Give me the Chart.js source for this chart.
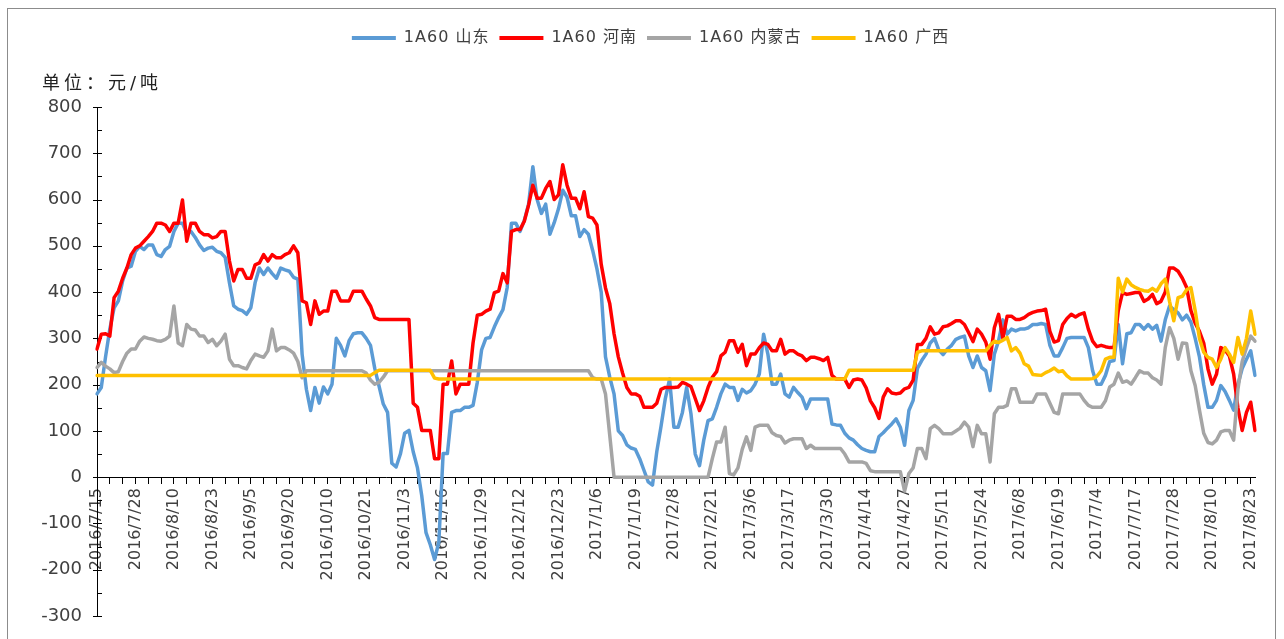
<!DOCTYPE html>
<html><head><meta charset="utf-8">
<script src="https://cdn.jsdelivr.net/npm/chart.js@4.4.0/dist/chart.umd.min.js"></script>
<style>
html,body{margin:0;padding:0;background:#fff;overflow:hidden;}
#wrap{position:relative;width:1284px;height:639px;overflow:hidden;}
#frame{position:absolute;left:7px;top:8px;width:1269px;height:700px;border:1px solid #8c8c8c;box-sizing:border-box;pointer-events:none;}
canvas{position:absolute;left:0;top:0;}
</style></head><body>
<div id="wrap"><canvas id="c" width="1284" height="639"></canvas><div id="frame"></div></div>
<script>
const tickLabels = ['2016/7/15','2016/7/28','2016/8/10','2016/8/23','2016/9/5','2016/9/20','2016/10/10','2016/10/21','2016/11/3','2016/11/16','2016/11/29','2016/12/12','2016/12/23','2017/1/6','2017/1/19','2017/2/8','2017/2/21','2017/3/6','2017/3/17','2017/3/30','2017/4/14','2017/4/27','2017/5/11','2017/5/24','2017/6/8','2017/6/19','2017/7/4','2017/7/17','2017/7/28','2017/8/10','2017/8/23'];
const seriesNames = ['1A60 山东','1A60 河南','1A60 内蒙古','1A60 广西'];
const unitText = '单位：元/吨';

const shandong = [
180,194,260,320,366,381,424,452,456,488,
499,492,502,502,481,477,492,499,531,549,
549,527,531,518,502,490,495,497,488,485,
475,420,370,363,360,352,366,420,452,438,
452,440,430,452,448,445,432,428,266,190,
144,194,160,195,180,201,300,285,262,295,
310,312,312,300,285,235,197,158,140,30,
22,50,95,101,55,20,-40,-120,-146,-178,
-140,51,51,140,144,144,151,151,155,205,
275,300,302,325,345,362,410,549,549,531,
555,590,671,600,570,590,525,550,580,620,
605,565,565,520,535,525,490,450,400,260,
216,180,100,90,70,63,60,40,15,-10,
-17,55,110,170,212,108,108,140,194,137,
50,25,80,122,126,151,180,201,194,194,
166,190,182,187,201,223,309,266,201,201,
223,180,173,194,183,173,148,169,169,169,
169,169,115,113,112,95,85,80,70,62,
58,55,55,88,96,106,115,126,108,69,
144,166,235,252,266,290,300,275,265,277,
285,298,302,305,262,237,262,237,230,187,
266,295,340,309,320,316,320,320,323,330,
330,332,330,285,262,262,280,300,302,302,
302,302,280,230,201,201,220,250,252,330,
245,310,312,330,330,320,330,320,328,294,
340,370,362,355,340,350,335,300,260,200,
151,151,166,198,185,166,145,200,235,255,
273,220];

const henan = [
277,309,310,305,388,402,430,452,481,495,
500,510,520,531,549,549,545,531,549,549,
599,510,549,549,531,524,524,517,520,531,
531,467,424,449,449,430,430,459,463,481,
467,481,474,474,481,485,500,485,381,377,
330,381,352,359,359,402,402,381,381,381,
402,402,402,385,370,345,341,341,341,341,
341,341,341,341,160,151,101,101,101,40,
40,201,201,251,180,201,201,201,290,350,
352,359,363,399,402,440,420,531,535,535,
553,588,631,603,603,624,639,600,610,675,
631,603,603,580,617,563,560,545,460,409,
375,310,260,225,194,180,180,175,151,151,
151,160,190,194,194,194,195,205,201,196,
170,144,165,194,216,228,262,270,295,295,
270,287,241,266,266,280,290,287,273,273,
298,266,273,273,266,262,252,259,259,256,
252,259,220,212,212,212,194,210,212,210,
193,165,150,127,173,191,182,180,182,191,
194,210,287,287,300,325,309,312,325,327,
332,338,338,330,312,293,320,309,292,255,
323,352,300,348,348,341,341,345,352,356,
359,360,363,315,292,295,330,343,352,346,
352,355,320,294,282,285,282,280,280,360,
399,395,397,399,399,380,385,395,375,380,
400,452,452,445,430,410,360,333,315,290,
234,201,223,280,275,262,223,150,101,140,
162,101];

const neimenggu = [
237,248,240,234,226,228,250,268,277,277,
294,303,300,298,295,294,298,305,370,290,
284,330,320,318,305,305,291,298,284,294,
309,255,241,241,237,234,252,266,262,259,
273,320,273,280,280,275,268,250,215,230,
230,230,230,230,230,230,230,230,230,230,
230,230,230,225,210,201,205,216,230,230,
230,230,230,230,230,230,230,230,230,230,
230,230,230,230,230,230,230,230,230,230,
230,230,230,230,230,230,230,230,230,230,
230,230,230,230,230,230,230,230,230,230,
230,230,230,230,230,230,215,212,212,180,
90,0,0,0,0,0,0,0,0,0,
0,0,0,0,0,0,0,0,0,0,
0,0,0,0,40,76,76,108,8,5,
20,60,87,58,108,112,112,112,96,90,
88,74,80,83,83,83,62,69,62,62,
62,62,62,62,62,50,33,33,33,33,
30,14,12,12,12,12,12,12,12,-30,
8,20,62,62,40,105,112,105,94,94,
94,100,106,119,108,66,112,94,94,33,
137,151,151,155,191,191,162,162,162,162,
180,180,180,160,140,137,180,180,180,180,
180,166,155,151,151,151,165,195,201,225,
205,208,201,215,230,225,225,215,210,201,
280,323,300,255,290,289,230,198,145,95,
75,72,80,98,101,101,80,190,250,280,
305,294];

const guangxi = [
220,220,220,220,220,220,220,220,220,220,
220,220,220,220,220,220,220,220,220,220,
220,220,220,220,220,220,220,220,220,220,
220,220,220,220,220,220,220,220,220,220,
220,220,220,220,220,220,220,220,220,220,
220,220,220,220,220,220,220,220,220,220,
220,220,220,220,220,226,231,231,231,231,
231,231,231,231,231,231,231,231,231,214,
212,212,212,212,212,212,212,212,212,212,
212,212,212,212,212,212,212,212,212,212,
212,212,212,212,212,212,212,212,212,212,
212,212,212,212,212,212,212,212,212,212,
212,212,212,212,212,212,212,212,212,212,
212,212,212,212,212,212,212,212,212,212,
212,212,212,212,212,212,212,212,212,212,
212,212,212,212,212,212,212,212,212,212,
212,212,212,212,212,212,212,212,212,212,
212,212,212,212,212,212,231,231,231,231,
231,231,231,231,231,231,231,231,231,231,
231,231,270,273,273,273,273,273,273,273,
273,273,273,273,273,273,273,273,273,285,
294,291,296,302,273,280,268,245,240,222,
221,220,226,230,236,228,230,219,212,212,
212,212,212,213,218,230,255,259,259,430,
400,428,416,410,406,403,402,408,402,418,
428,380,338,388,391,405,410,360,300,270,
259,255,237,255,280,266,248,302,266,300,
359,309];

const colors = ['#5B9BD5','#FF0000','#A5A5A5','#FFC000'];
const N = shandong.length;
const categories = Array.from({length: N}, (_, i) => (i % 9 === 0 && tickLabels[i / 9]) ? tickLabels[i / 9] : '');

const CJK = '"DejaVu Sans", "Noto Sans CJK SC", sans-serif';
const hasLS = 'letterSpacing' in CanvasRenderingContext2D.prototype;

const legendSpacer = {
  id: 'legendSpacer',
  beforeInit(chart) {
    const lg = chart.legend;
    const origFit = lg.fit;
    const origDraw = lg.draw;
    lg.fit = function () {
      if (hasLS) this.ctx.letterSpacing = '1px';
      origFit.call(this);
      if (hasLS) this.ctx.letterSpacing = '0px';
      this.height += 51;
    };
    lg.draw = function () {
      if (hasLS) this.ctx.letterSpacing = '1px';
      origDraw.call(this);
      if (hasLS) this.ctx.letterSpacing = '0px';
    };
  },
  afterLayout(chart) {
    chart.legend.left += 8;
    chart.legend.right += 8;
  }
};

const extras = {
  id: 'extras',
  beforeDatasetsDraw(chart) {
    const ctx = chart.ctx;
    const y = chart.scales.y;
    const x0 = y.right;
    ctx.save();
    ctx.strokeStyle = '#000';
    ctx.lineWidth = 1;
    for (let v = -300; v <= 800; v += 50) {
      const py = Math.round(y.getPixelForValue(v)) + 0.5;
      ctx.beginPath();
      if (v % 100 === 0) { ctx.moveTo(x0 - 4, py); ctx.lineTo(x0 + 5, py); }
      else { ctx.moveTo(x0, py); ctx.lineTo(x0 + 5, py); }
      ctx.stroke();
    }
    ctx.restore();
  },
  afterDraw(chart) {
    const ctx = chart.ctx;
    ctx.save();
    ctx.fillStyle = '#222';
    ctx.font = '18px ' + CJK;
    if (hasLS) ctx.letterSpacing = '4px';
    ctx.textBaseline = 'middle';
    ctx.textAlign = 'left';
    ctx.fillText(unitText, 42, 84);
    if (hasLS) ctx.letterSpacing = '0px';
    ctx.restore();
  }
};

new Chart(document.getElementById('c'), {
  type: 'line',
  data: {
    labels: categories,
    datasets: [
      { label: seriesNames[0], data: shandong, borderColor: colors[0], backgroundColor: colors[0], order: 4 },
      { label: seriesNames[1], data: henan, borderColor: colors[1], backgroundColor: colors[1], order: 3 },
      { label: seriesNames[2], data: neimenggu, borderColor: colors[2], backgroundColor: colors[2], order: 2 },
      { label: seriesNames[3], data: guangxi, borderColor: colors[3], backgroundColor: colors[3], order: 1 }
    ]
  },
  options: {
    responsive: false,
    animation: false,
    devicePixelRatio: 1,
    layout: { padding: { left: 30, right: 29, top: 20, bottom: 23 } },
    elements: {
      line: { borderWidth: 3.5, tension: 0, borderJoinStyle: 'round', borderCapStyle: 'round', fill: false },
      point: { radius: 0, hoverRadius: 0 }
    },
    plugins: {
      tooltip: { enabled: false },
      legend: {
        position: 'top',
        align: 'center',
        labels: {
          boxWidth: 44,
          boxHeight: 4,
          padding: 10,
          color: '#404040',
          font: { family: CJK, size: 16 },
          sort: (a, b) => a.datasetIndex - b.datasetIndex,
          generateLabels(chart) {
            const items = Chart.defaults.plugins.legend.labels.generateLabels(chart);
            items.forEach(it => { it.lineWidth = 0; it.fillStyle = it.strokeStyle; });
            return items;
          }
        }
      }
    },
    scales: {
      x: {
        type: 'category',
        position: { y: 0 },
        offset: false,
        grid: {
          display: true,
          drawOnChartArea: false,
          drawTicks: true,
          tickLength: 6,
          tickWidth: 1,
          tickColor: (c) => (c.index % 3 === 0 ? '#000' : 'rgba(0,0,0,0)')
        },
        border: { display: true, color: '#000', width: 1 },
        ticks: {
          autoSkip: false,
          maxRotation: 90,
          minRotation: 90,
          padding: 5,
          color: '#404040',
          font: { family: '"DejaVu Sans", sans-serif', size: 16 },
          callback: (v, i) => categories[i]
        }
      },
      y: {
        min: -300,
        max: 800,
        grid: { display: false, drawTicks: false },
        border: { display: true, color: '#000', width: 1 },
        ticks: {
          stepSize: 100,
          padding: 15,
          color: '#404040',
          font: { family: '"DejaVu Sans", sans-serif', size: 18 }
        },
        afterFit: (s) => { s.width = 67; s.paddingTop = 0; s.paddingBottom = 0; }
      }
    }
  },
  plugins: [legendSpacer, extras]
});
</script>
</body></html>
